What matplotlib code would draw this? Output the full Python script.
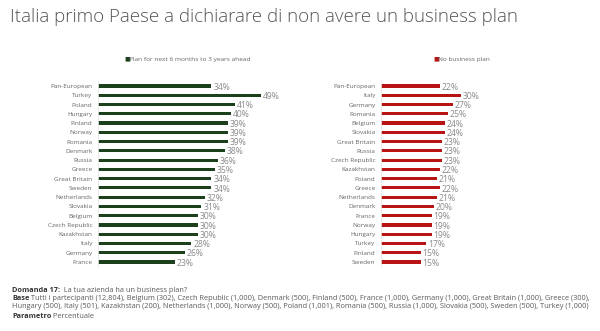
import matplotlib.pyplot as plt

plt.rcParams['font.family'] = ['Open Sans', 'DejaVu Sans']

title = "Italia primo Paese a dichiarare di non avere un business plan"

plan_countries = ["Pan-European", "Turkey", "Poland", "Hungary", "Finland", "Norway",
                  "Romania", "Denmark", "Russia", "Greece", "Great Britain", "Sweden",
                  "Netherlands", "Slovakia", "Belgium", "Czech Republic", "Kazakhstan",
                  "Italy", "Germany", "France"]
plan_values = [34, 49, 41, 40, 39, 39, 39, 38, 36, 35, 34, 34, 32, 31, 30, 30, 30, 28, 26, 23]

noplan_countries = ["Pan-European", "Italy", "Germany", "Romania", "Belgium", "Slovakia",
                    "Great Britain", "Russia", "Czech Republic", "Kazakhstan", "Poland",
                    "Greece", "Netherlands", "Denmark", "France", "Norway", "Hungary",
                    "Turkey", "Finland", "Sweden"]
noplan_values = [22, 30, 27, 25, 24, 24, 23, 23, 23, 22, 21, 22, 21, 20, 19, 19, 19, 17, 15, 15]

legend_plan = "Plan for next 6 months to 3 years ahead"
legend_noplan = "No business plan"

footer = [
    [("Domanda 17:", True), ("  La tua azienda ha un business plan?", False)],
    [("Base", True), (" Tutti i partecipanti (12,804), Belgium (302), Czech Republic (1,000), "
      "Denmark (500), Finland (500), France (1,000), Germany (1,000), Great Britain (1,000), "
      "Greece (300),", False)],
    [("Hungary (500), Italy (501), Kazakhstan (200), Netherlands (1,000), Norway (500), "
      "Poland (1,001), Romania (500), Russia (1,000), Slovakia (500), Sweden (500), "
      "Turkey (1,000)", False)],
    [("Parametro", True), (" Percentuale", False)],
]

W, H = 600, 331
fig = plt.figure(figsize=(6, 3.31), dpi=100)
renderer = fig.canvas.get_renderer()

green = "#1c3f1c"
red = "#b81414"


def panel(x0, width_px, xmax, cats, vals, color, leg_text, leg_x):
    ax = fig.add_axes([x0 / W, 1 - 266.6 / H, width_px / W, 185.2 / H])
    y = list(range(len(cats)))
    ax.barh(y, vals, height=0.34, color=color)
    ax.set_xlim(0, xmax)
    ax.set_ylim(len(cats) - 0.5, -0.5)
    ax.set_yticks(y)
    ax.set_yticklabels(cats, fontsize=4.6, color="#666666")
    ax.tick_params(axis='y', length=0, pad=4)
    ax.set_xticks([])
    for s in ["top", "right", "bottom"]:
        ax.spines[s].set_visible(False)
    ax.spines["left"].set_color("#e6e6e6")
    ax.spines["left"].set_linewidth(0.6)
    for yi, v in zip(y, vals):
        ax.text(v + 0.6, yi + 0.12, f"{v}%", fontsize=6.2, color="#8a8a8a",
                va="center", ha="left")
    # legend
    fig.text(leg_x / W, 1 - 59 / H, "\u25A0", fontsize=4.5, color=color, va="center", ha="left")
    fig.text((leg_x + 5) / W, 1 - 59 / H, leg_text, fontsize=4.65, color="#666666",
             va="center", ha="left")
    return ax


panel(98, 190, 57, plan_countries, plan_values, green, legend_plan, 124)
panel(381, 160, 60, noplan_countries, noplan_values, red, legend_noplan, 433)

t = fig.text(10 / W, 1 - 17 / H, title, fontsize=13.5, color="#555555",
             fontweight="light", va="center", ha="left")

fs = 5.3
fy = [290, 298, 307, 316]
for line, ypx in zip(footer, fy):
    x = 12
    for txt, bold in line:
        tt = fig.text(x / W, 1 - ypx / H, txt, fontsize=fs,
                      fontweight="bold" if bold else "normal",
                      color="#333333" if bold else "#5a5a5a", va="center", ha="left")
        x += tt.get_window_extent(renderer).width

fig.savefig("out.png", dpi=100, facecolor="white")
